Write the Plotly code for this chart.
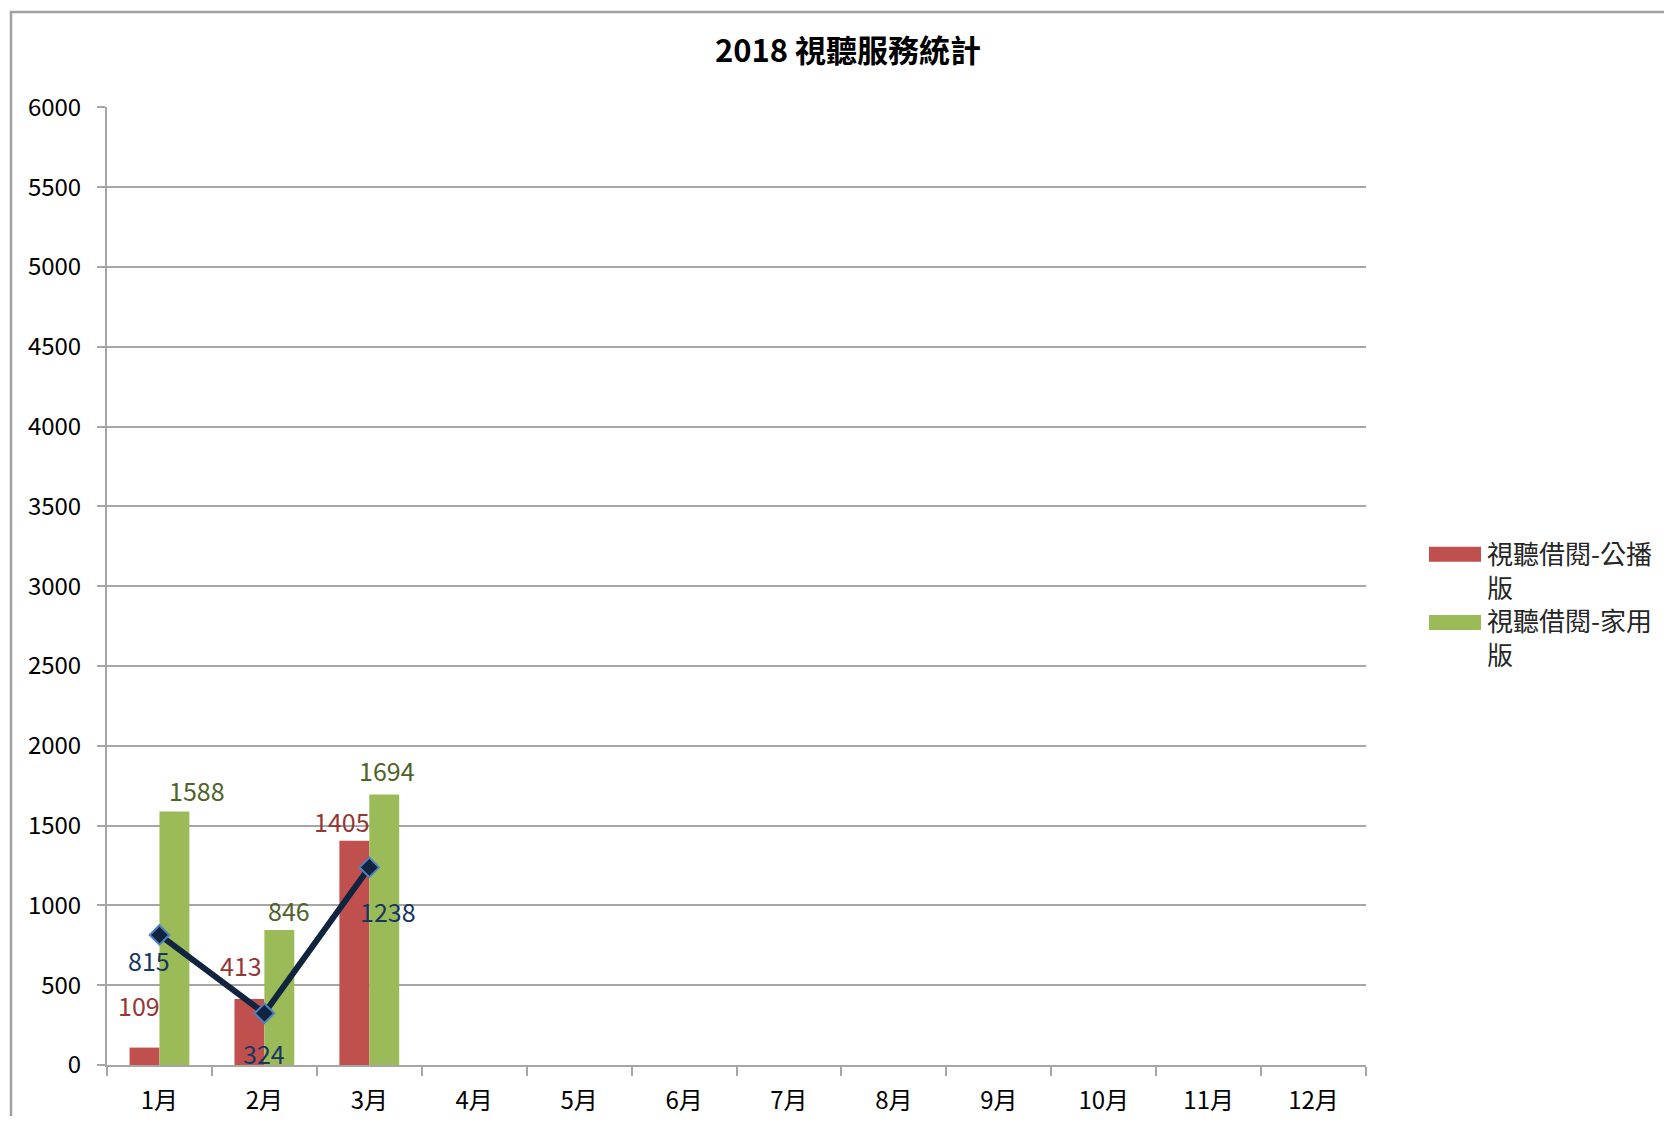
import plotly.graph_objects as go

months = ["1月", "2月", "3月", "4月", "5月", "6月", "7月", "8月", "9月", "10月", "11月", "12月"]
series_names = ["視聽借閱-公播版", "視聽借閱-家用版"]
public_vals = [109, 413, 1405]
home_vals = [1588, 846, 1694]
line_vals = [815, 324, 1238]
title_text = "2018 視聽服務統計"

FONT = "Noto Sans CJK TC"
RED = "#c0504d"
GREEN = "#9bbb59"
NAVY = "#10243f"
GRID = "#a6a6a6"

# label offsets (px) relative to category centre / value
pub_off = [(-20, 43), (-23, 34), (-27, 20)]
home_off = [(38, 22), (25, 20), (18, 25)]
line_off = [(-10, -25), (0, -40), (19, -44)]

OFF = 8  # default page body margin
W, H = 1672 - 2 * OFF, 1124 - 2 * OFF
# plot area in page pixels: x 107..1366, y 107..1065
L = 107 - OFF
T = 107 - OFF
R = W - (1366 - OFF)
B = H - (1065 - OFF)
PW = W - L - R
PH = H - T - B


def px_x(p):
    return (p - OFF - L) / PW


def px_y(p):
    return (H - B - (p - OFF)) / PH


fig = go.Figure()
n = len(public_vals)
fig.add_trace(go.Bar(x=months[:n], y=public_vals, name=series_names[0],
                     marker=dict(color=RED, line=dict(width=0)), showlegend=False))
fig.add_trace(go.Bar(x=months[:n], y=home_vals, name=series_names[1],
                     marker=dict(color=GREEN, line=dict(width=0)), showlegend=False))
fig.add_trace(go.Scatter(x=months[:len(line_vals)], y=line_vals, mode="lines+markers",
                         line=dict(color=NAVY, width=6),
                         marker=dict(symbol="diamond", size=15, color=NAVY,
                                     line=dict(color="#4f81bd", width=2)),
                         showlegend=False))

ann = []
for vals, offs, col in [(public_vals, pub_off, "#953735"),
                        (home_vals, home_off, "#4f6228"),
                        (line_vals, line_off, "#17375e")]:
    for i, v in enumerate(vals):
        ann.append(dict(x=months[i], y=v, xref="x", yref="y", text=str(v),
                        showarrow=False, xshift=offs[i][0], yshift=offs[i][1],
                        font=dict(family=FONT, size=25, color=col)))

# custom legend (wrapped series names, as in the reference)
shapes = []
leg_rows = [(RED, 546.7, 569), (GREEN, 615, 636.5)]
for (col, sy, ty), name in zip(leg_rows, series_names):
    shapes.append(dict(type="rect", xref="paper", yref="paper",
                       x0=px_x(1429), x1=px_x(1481), y0=px_y(sy + 15), y1=px_y(sy),
                       fillcolor=col, line=dict(width=0)))
    ann.append(dict(x=px_x(1485), y=px_y(ty), xref="paper", yref="paper",
                    text=name[:-1] + "<br>" + name[-1], align="left",
                    showarrow=False, xanchor="left", yanchor="middle",
                    font=dict(family=FONT, size=26, color="#262626")))

# outer chart border
shapes.append(dict(type="rect", xref="paper", yref="paper",
                   x0=px_x(11), x1=px_x(1800), y0=px_y(1200), y1=px_y(12),
                   line=dict(color="#a0a0a0", width=2.5), fillcolor="rgba(0,0,0,0)"))

fig.update_layout(
    width=W, height=H,
    margin=dict(l=L, r=R, t=T, b=B, autoexpand=False),
    paper_bgcolor="white", plot_bgcolor="white",
    barmode="group", bargap=0.43, bargroupgap=0,
    title=dict(text="<b>" + title_text + "</b>", x=px_x(848), xref="paper",
               y=1 - (51 - OFF) / H, yref="container", xanchor="center", yanchor="middle",
               font=dict(family=FONT, size=31, color="#000")),
    xaxis=dict(type="category", categoryorder="array", categoryarray=months,
               range=[-0.5, len(months) - 0.5], showgrid=False, zeroline=False,
               showline=True, linecolor=GRID, linewidth=2, automargin=False,
               ticks="outside", tickson="boundaries", ticklen=9, tickcolor=GRID, tickwidth=2,
               ticklabelstandoff=13,
               tickfont=dict(family=FONT, size=24, color="#000")),
    yaxis=dict(range=[0, 6002], tickvals=list(range(0, 6001, 500)),
               showgrid=True, gridcolor=GRID, gridwidth=2, automargin=False,
               zeroline=False, showline=True, linecolor=GRID, linewidth=2,
               ticks="outside", ticklen=8, tickcolor=GRID, tickwidth=2,
               ticklabelstandoff=11,
               tickfont=dict(family=FONT, size=24, color="#000")),
    shapes=shapes, annotations=ann,
)

fig.write_html("out.html")
